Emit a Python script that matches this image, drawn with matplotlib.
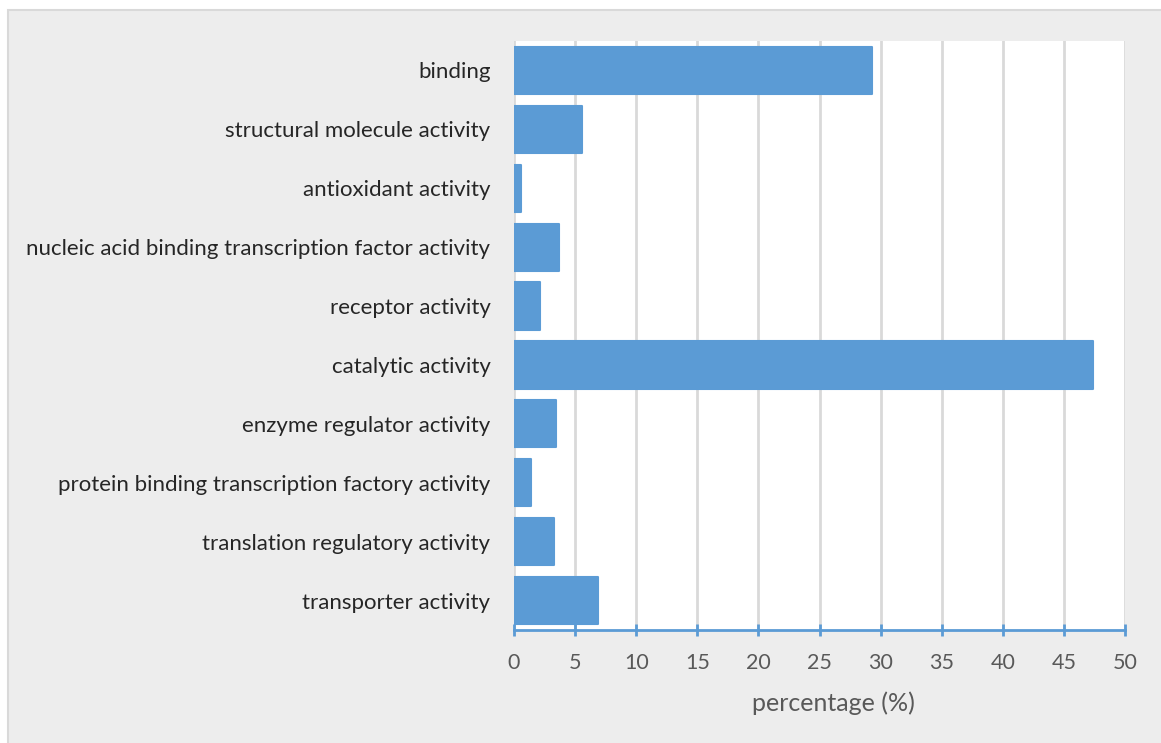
import matplotlib.pyplot as plt
from matplotlib.patches import Rectangle

# GO molecular function categories (top to bottom as shown)
categories = ["binding", "structural molecule activity", "antioxidant activity",
              "nucleic acid binding transcription factor activity", "receptor activity",
              "catalytic activity", "enzyme regulator activity",
              "protein binding transcription factory activity",
              "translation regulatory activity", "transporter activity"]
percentages = [29.3, 5.6, 0.55, 3.7, 2.15, 47.4, 3.4, 1.4, 3.3, 6.85]
xticks = [0, 5, 10, 15, 20, 25, 30, 35, 40, 45, 50]

barcolor = "#5B9BD5"
plt.rcParams['font.family'] = ['Lato', 'DejaVu Sans']

fig = plt.figure(figsize=(11.61, 7.43), dpi=100)
fig.patch.set_facecolor("white")
# chart area (gray box with light border)
fig.patches.append(Rectangle((8/1161, -0.01), 1 - 8/1161 + 0.01, 1 - 10/743 + 0.01,
                             transform=fig.transFigure, facecolor="#EDEDED",
                             edgecolor="#D9D9D9", linewidth=1.5, zorder=-10))

ax = fig.add_axes([514/1161, 1 - 630/743, (1125 - 514)/1161, (630 - 41)/743])
ax.set_facecolor("white")

ypos = list(range(len(categories)))
ax.barh(ypos, percentages, height=0.8, color=barcolor, edgecolor=barcolor,
        linewidth=1.5, joinstyle="round", zorder=3)

ax.set_ylim(len(categories) - 0.5, -0.5)
ax.set_xlim(0, 50)
ax.set_xticks(xticks)
ax.set_yticks(ypos)
ax.set_yticklabels(categories, fontsize=16, color="#262626")
ax.tick_params(axis="y", length=0, pad=17)
ax.tick_params(axis="x", direction="inout", length=9, width=2, color=barcolor,
               labelsize=15.5, labelcolor="#595959", pad=12)

ax.grid(axis="x", color="#D9D9D9", linewidth=2, zorder=0)
for s in ["top", "right", "left"]:
    ax.spines[s].set_visible(False)
ax.spines["bottom"].set_color(barcolor)
ax.spines["bottom"].set_linewidth(2)
ax.spines["bottom"].set_zorder(4)

ax.set_xlabel("percentage (%)", fontsize=18, color="#595959")
ax.xaxis.set_label_coords(0.522, -0.105)

plt.savefig("out.png", dpi=100)
